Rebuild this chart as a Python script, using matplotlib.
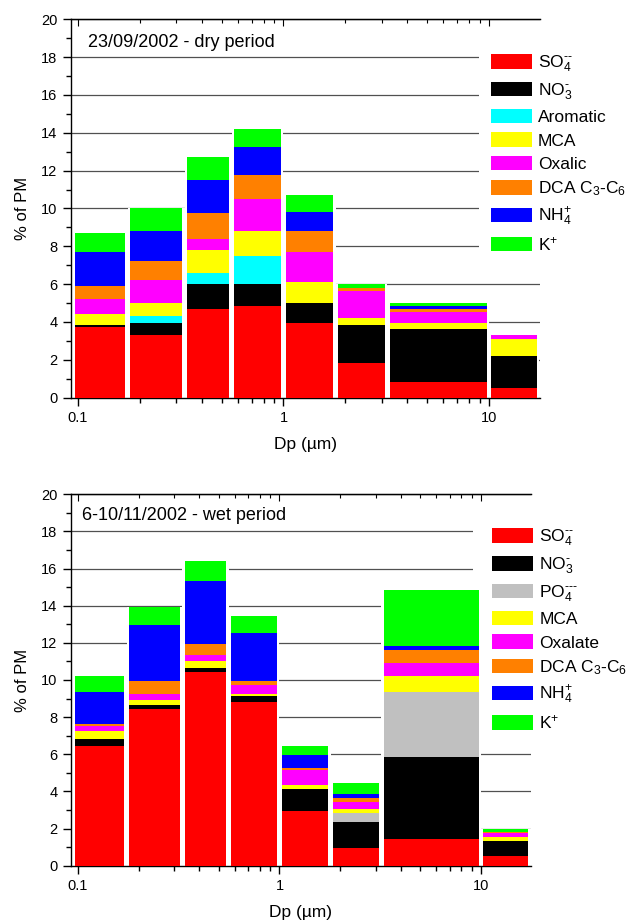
import numpy as np
import matplotlib
matplotlib.use('Agg')
import matplotlib.pyplot as plt
import matplotlib.ticker as ticker
from matplotlib.patches import Patch

plt.rcParams['font.family'] = ['Liberation Sans', 'DejaVu Sans']
plt.rcParams['mathtext.fontset'] = 'custom'
plt.rcParams['mathtext.rm'] = 'Liberation Sans'
plt.rcParams['mathtext.it'] = 'Liberation Sans:italic'
plt.rcParams['mathtext.bf'] = 'Liberation Sans:bold'

# impactor stage boundaries (um)
stage_edges = [0.094, 0.175, 0.33, 0.56, 1.0, 1.8, 3.2, 10.0, 17.6]

# 23/09/2002 - dry period, % of PM per stage
dry_labels = ['SO$_4^{\u2010\u2010}$', 'NO$_3^{\u2010}$', 'Aromatic', 'MCA', 'Oxalic',
              'DCA C$_3$-C$_6$', 'NH$_4^{+}$', 'K$^{+}$']
dry_colors = ['#ff0000', '#000000', '#00ffff', '#ffff00', '#ff00ff',
              '#ff8000', '#0000ff', '#00ff00']
dry_so4 = [3.76, 3.32, 4.71, 4.83, 3.92, 1.82, 0.83, 0.53]
dry_no3 = [0.08, 0.60, 1.30, 1.18, 1.09, 2.01, 2.81, 1.67]
dry_arom = [0.0, 0.42, 0.60, 1.50, 0.0, 0.0, 0.0, 0.0]
dry_mca = [0.59, 0.67, 1.20, 1.31, 1.11, 0.39, 0.28, 0.90]
dry_ox = [0.79, 1.22, 0.60, 1.69, 1.60, 1.41, 0.60, 0.22]
dry_dca = [0.69, 1.00, 1.33, 1.24, 1.10, 0.19, 0.19, 0.0]
dry_nh4 = [1.81, 1.59, 1.78, 1.48, 1.00, 0.0, 0.11, 0.0]
dry_k = [0.99, 1.22, 1.21, 0.99, 0.90, 0.20, 0.19, 0.0]

# 6-10/11/2002 - wet period
wet_labels = ['SO$_4^{\u2010\u2010}$', 'NO$_3^{\u2010}$', 'PO$_4^{\u2010\u2010\u2010}$', 'MCA',
              'Oxalate', 'DCA C$_3$-C$_6$', 'NH$_4^{+}$', 'K$^{+}$']
wet_colors = ['#ff0000', '#000000', '#c0c0c0', '#ffff00', '#ff00ff',
              '#ff8000', '#0000ff', '#00ff00']
wet_so4 = [6.45, 8.44, 10.45, 8.83, 2.94, 0.97, 1.44, 0.53]
wet_no3 = [0.37, 0.20, 0.20, 0.31, 1.19, 1.38, 4.39, 0.80]
wet_po4 = [0.0, 0.0, 0.0, 0.0, 0.0, 0.50, 3.52, 0.0]
wet_mca = [0.42, 0.28, 0.37, 0.11, 0.23, 0.20, 0.87, 0.23]
wet_ox = [0.30, 0.33, 0.33, 0.48, 0.81, 0.40, 0.71, 0.22]
wet_dca = [0.09, 0.68, 0.59, 0.20, 0.07, 0.19, 0.69, 0.02]
wet_nh4 = [1.72, 3.01, 3.39, 2.60, 0.70, 0.24, 0.21, 0.03]
wet_k = [0.87, 1.01, 1.10, 0.92, 0.51, 0.55, 3.02, 0.15]

dry_series = [dry_so4, dry_no3, dry_arom, dry_mca, dry_ox, dry_dca, dry_nh4, dry_k]
wet_series = [wet_so4, wet_no3, wet_po4, wet_mca, wet_ox, wet_dca, wet_nh4, wet_k]


def draw_panel(ax, series, labels, colors, title, title_xy, leg_anchor, leg_pad):
    edges = np.array(stage_edges)
    gap = 10 ** 0.012
    left = edges[:-1] * gap
    right = edges[1:] / gap
    totals = np.sum(series, axis=0)

    # white band behind each stack hides the grid in the gaps
    ax.bar(edges[:-1], totals, width=edges[1:] - edges[:-1], align='edge',
           color='white', zorder=2)

    bottom = np.zeros(len(left))
    for vals, c in zip(series, colors):
        ax.bar(left, vals, width=right - left, bottom=bottom, align='edge',
               color=c, linewidth=0, zorder=3)
        bottom = bottom + np.array(vals)

    ax.set_xscale('log')
    ax.set_xlim(0.092, 17.7)
    ax.set_ylim(0, 20)
    ax.xaxis.set_major_locator(ticker.FixedLocator([0.1, 1, 10]))
    ax.xaxis.set_major_formatter(ticker.FixedFormatter(['0.1', '1', '10']))
    ax.xaxis.set_minor_locator(ticker.LogLocator(base=10, subs=np.arange(2, 10)))
    ax.xaxis.set_minor_formatter(ticker.NullFormatter())
    ax.yaxis.set_major_locator(ticker.MultipleLocator(2))
    ax.yaxis.set_minor_locator(ticker.MultipleLocator(1))

    ax.tick_params(which='both', direction='out', labelsize=10.5, width=1)
    ax.tick_params(which='major', length=6)
    ax.tick_params(which='minor', length=3.5)
    ax.spines['right'].set_visible(False)
    for s in ['left', 'bottom', 'top']:
        ax.spines[s].set_linewidth(1)

    top = ax.secondary_xaxis('top')
    top.tick_params(which='both', direction='in', labeltop=False, width=0.8)
    top.tick_params(which='major', length=5)
    top.tick_params(which='minor', length=3)
    top.xaxis.set_minor_locator(ticker.LogLocator(base=10, subs=np.arange(2, 10)))

    ax.yaxis.grid(True, which='major', color='#505050', linewidth=0.9)
    ax.set_axisbelow(True)

    ax.set_ylabel('% of PM', fontsize=12, labelpad=8)
    ax.set_xlabel('Dp (\u00b5m)', fontsize=12.5, labelpad=9)
    ax.text(title_xy[0], title_xy[1], title, transform=ax.transAxes,
            fontsize=13, va='baseline', ha='left')

    handles = [Patch(facecolor=c, edgecolor='none') for c in colors]
    leg = ax.legend(handles, labels, loc='upper left', bbox_to_anchor=leg_anchor,
                    fontsize=12.5, frameon=True, fancybox=False, framealpha=1,
                    edgecolor='none', facecolor='white', borderpad=leg_pad,
                    handlelength=2.35, handleheight=0.9, handletextpad=0.35,
                    labelspacing=0.42, borderaxespad=0)
    # above the grid, below the bars
    leg.set_zorder(2.5)


fig = plt.figure(figsize=(6.29, 9.22), dpi=100)
ax1 = fig.add_axes([0.1121, 0.5687, 0.7464, 0.4104])
ax2 = fig.add_axes([0.1122, 0.0611, 0.7320, 0.4028])

draw_panel(ax1, dry_series, dry_labels, dry_colors, '23/09/2002 - dry period',
           (0.037, 0.9276), (0.870, 0.942), 0.7)
draw_panel(ax2, wet_series, wet_labels, wet_colors, '6-10/11/2002 - wet period',
           (0.024, 0.931), (0.8746, 0.962), 1.1)

fig.savefig('out.png', dpi=100)
